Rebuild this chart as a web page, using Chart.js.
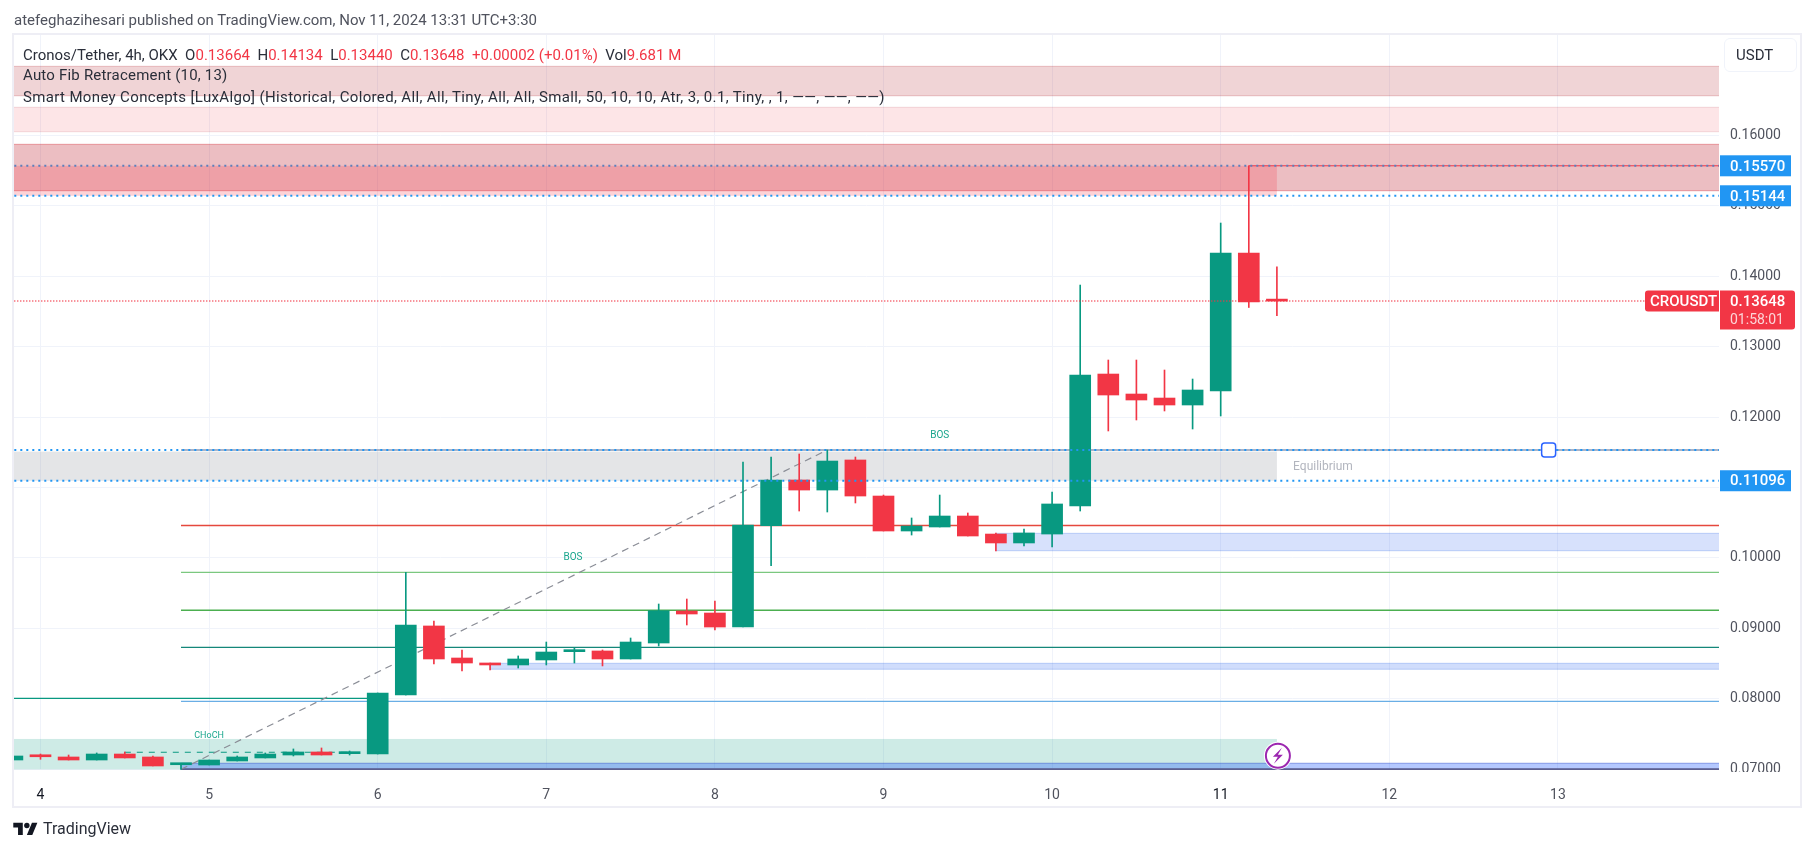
<!DOCTYPE html>
<html>
<head>
<meta charset="utf-8">
<title>CROUSDT</title>
<script src="https://cdn.jsdelivr.net/npm/chart.js@4/dist/chart.umd.js"></script>
<style>
  html, body { margin: 0; padding: 0; background: #fff; width: 1814px; height: 851px; overflow: hidden; }
  body { font-family: Roboto, sans-serif; font-size: 15px; color: #2a2e39; position: relative; }
  canvas { position: absolute; left: 0; top: 0; }
  .txt { position: absolute; white-space: pre; line-height: 18px; }
  .red { color: #f23645; }
  #usdt { position: absolute; left: 1724px; top: 38px; width: 71px; height: 32px; border: 1.5px solid #f0f3fa; border-radius: 6px; line-height: 32px; text-indent: 11px; color: #2a2e39; }
  #logo { position: absolute; left: 13px; top: 820px; }
</style>
</head>
<body>
<canvas id="chart" width="1814" height="851"></canvas>
<div class="txt" style="left:14px;top:11px;color:#50535e">atefeghazihesari published on TradingView.com, Nov 11, 2024 13:31 UTC+3:30</div>
<div class="txt" style="left:23px;top:46px">Cronos/Tether, 4h, OKX  O<span class="red">0.13664</span>  H<span class="red">0.14134</span>  L<span class="red">0.13440</span>  C<span class="red">0.13648</span>  <span class="red">+0.00002 (+0.01%)</span>  Vol<span class="red">9.681 M</span></div>
<div class="txt" style="left:23px;top:66px;letter-spacing:0.2px">Auto Fib Retracement (10, 13)</div>
<div class="txt" style="left:23px;top:88px;letter-spacing:0.35px">Smart Money Concepts [LuxAlgo] (Historical, Colored, All, All, Tiny, All, All, Small, 50, 10, 10, Atr, 3, 0.1, Tiny, , 1, ——, ——, ——)</div>
<div id="usdt">USDT</div>
<svg id="logo" width="25" height="19" viewBox="0 0 36 28"><path fill="#131722" d="M14 22H7V11H0V4h14v18zM28 22h-8l7.5-18h8L28 22z"/><circle fill="#131722" cx="20" cy="8" r="4"/></svg>
<div class="txt" style="left:43px;top:820px;font-size:16px;color:#2a2e39">TradingView</div>

<script>
// 4h candles
const opens = [0.07129, 0.07182, 0.07172, 0.07129, 0.07214, 0.07172, 0.07062, 0.07058, 0.07115, 0.07158, 0.07200, 0.07243, 0.07219, 0.07214, 0.08052, 0.09033, 0.08578, 0.08493, 0.08479, 0.08550, 0.08668, 0.08678, 0.08564, 0.08791, 0.09246, 0.09217, 0.09018, 0.10457, 0.11107, 0.10964, 0.11391, 0.10879, 0.10382, 0.10439, 0.10595, 0.10339, 0.10212, 0.10339, 0.10737, 0.12612, 0.12328, 0.12271, 0.12172, 0.12371, 0.14331, 0.13664];
const highs = [0.07186, 0.07214, 0.07200, 0.07229, 0.07243, 0.07186, 0.07072, 0.07129, 0.07186, 0.07229, 0.07286, 0.07300, 0.07257, 0.08081, 0.09795, 0.09104, 0.08692, 0.08507, 0.08607, 0.08805, 0.08720, 0.08692, 0.08862, 0.09345, 0.09416, 0.09388, 0.11362, 0.11433, 0.11476, 0.11533, 0.11433, 0.10893, 0.10567, 0.10893, 0.10638, 0.10354, 0.10411, 0.10936, 0.13876, 0.12811, 0.12811, 0.12669, 0.12541, 0.14757, 0.15570, 0.14134];
const lows = [0.07129, 0.07139, 0.07129, 0.07129, 0.07158, 0.07044, 0.06997, 0.07058, 0.07115, 0.07158, 0.07186, 0.07200, 0.07200, 0.07214, 0.08052, 0.08493, 0.08394, 0.08408, 0.08436, 0.08479, 0.08507, 0.08465, 0.08564, 0.08749, 0.09047, 0.08976, 0.09018, 0.09889, 0.10666, 0.10652, 0.10780, 0.10382, 0.10325, 0.10439, 0.10311, 0.10098, 0.10169, 0.10155, 0.10666, 0.11803, 0.11959, 0.12087, 0.11831, 0.12016, 0.13557, 0.13440];
const closes = [0.07186, 0.07175, 0.07129, 0.07214, 0.07158, 0.07044, 0.07072, 0.07129, 0.07172, 0.07214, 0.07243, 0.07200, 0.07229, 0.08081, 0.09047, 0.08564, 0.08507, 0.08479, 0.08564, 0.08663, 0.08678, 0.08564, 0.08805, 0.09250, 0.09203, 0.09018, 0.10467, 0.11107, 0.10964, 0.11376, 0.10879, 0.10382, 0.10453, 0.10595, 0.10311, 0.10212, 0.10354, 0.10766, 0.12598, 0.12314, 0.12243, 0.12172, 0.12385, 0.14331, 0.13635, 0.13648];

const dayLabels = ['4', '5', '6', '7', '8', '9', '10', '11', '12', '13'];
const dayIndexes = [1, 7, 13, 19, 25, 31, 37, 43, 49, 55];
const priceTicks = [0.07, 0.08, 0.09, 0.10, 0.11, 0.12, 0.13, 0.14, 0.15, 0.16];

// zones: [from candle, to candle, top price, bottom price]
const topBandA = [-1, 70, 0.16983, 0.16565];
const topBandB = [-1, 70, 0.16401, 0.16054];
const topBandC = [-1, 70, 0.15875, 0.15216];
const premiumZone = [-1, 45, 0.15570, 0.15144];
const equilibriumZone = [-1, 45, 0.11510, 0.11096];
const discountZone = [-1, 45, 0.07428, 0.06996];
const orderBlockHigh = [35, 70, 0.10349, 0.10102];
const orderBlockMid = [17, 70, 0.08503, 0.08418];
const orderBlockLow = [6, 70, 0.07083, 0.06998];

// fib levels start at candle 6
const fibLevels = [0.11533, 0.10460, 0.09795, 0.09256, 0.08730, 0.07963];
const swingLine = [[6, 0.06997], [29, 0.11533]];
const chochLine = [[4, 0.07239], [12, 0.07239]];
const lowLine = [[-1, 0.08005], [13, 0.08005]];
const highLine = [[44, 0.15570], [70, 0.15570]];
const lastPrice = 0.13648;
const badgePrices = [0.15570, 0.15144, 0.11096];

const GREEN = '#089981';
const RED = '#f23645';
const candleColor = i => closes[i] >= opens[i] ? GREEN : RED;

const lineSet = (points, color, order, extra) => Object.assign({
  type: 'line',
  data: points.map(p => ({ x: p[0], y: p[1] })),
  borderColor: color,
  borderWidth: 1,
  pointRadius: 0,
  tension: 0,
  order: order,
}, extra);

const fibColors = ['#8f9ab5', '#e5483d', '#7bc87f', '#4caf50', '#14877a', '#6aaee5'];
const datasets = [
  { data: opens.map((o, i) => ({ x: i, y: [lows[i], highs[i]] })), backgroundColor: opens.map((o, i) => candleColor(i)), barThickness: 1, grouped: false, order: 5 },
  { data: opens.map((o, i) => ({ x: i, y: [o, closes[i]] })), backgroundColor: opens.map((o, i) => candleColor(i)), barThickness: 21, minBarLength: 2, grouped: false, order: 4 },
  lineSet(swingLine, '#8a8d96', 6, { borderWidth: 1.2, borderDash: [7, 5] }),
  lineSet(chochLine, GREEN, 6, { borderDash: [6, 6] }),
  lineSet(lowLine, GREEN, 7, { borderWidth: 1.3 }),
  lineSet(highLine, RED, 3),
  lineSet([[-1, lastPrice], [58.8, lastPrice]], RED, 2, { borderWidth: 1.5, borderDash: [1, 2] }),
  lineSet([[-1, badgePrices[0]], [70, badgePrices[0]]], '#5b80bd', 1, { borderWidth: 2, borderDash: [2, 4] }),
  lineSet([[-1, badgePrices[1]], [70, badgePrices[1]]], '#2196f3', 1, { borderWidth: 2, borderDash: [2, 4] }),
  lineSet([[-1, fibLevels[0]], [70, fibLevels[0]]], '#2196f3', 1, { borderWidth: 2, borderDash: [2, 4] }),
  lineSet([[-1, badgePrices[2]], [70, badgePrices[2]]], '#2196f3', 1, { borderWidth: 2, borderDash: [2, 4] }),
  lineSet([[6, 0.06998], [70, 0.06998]], '#5c5f8f', 6, { borderWidth: 2 }),
];
fibLevels.forEach((level, k) => datasets.push(lineSet([[6, level], [70, level]], fibColors[k], 7, { borderWidth: 1.3 })));

const zoneStyles = [
  [topBandA, 'rgba(178,40,51,0.2)', 'rgba(178,40,51,0.25)'],
  [topBandB, 'rgba(242,54,69,0.13)', 'rgba(178,40,51,0.15)'],
  [topBandC, 'rgba(191,40,52,0.3)', 'rgba(210,40,52,0.4)'],
  [premiumZone, 'rgba(247,53,74,0.22)', null],
  [equilibriumZone, 'rgba(120,123,134,0.2)', null],
  [discountZone, 'rgba(8,153,129,0.2)', null],
  [orderBlockHigh, 'rgba(41,98,240,0.19)', 'rgba(41,98,230,0.25)'],
  [orderBlockMid, 'rgba(41,98,240,0.22)', 'rgba(41,98,230,0.25)'],
  [orderBlockLow, 'rgba(41,98,255,0.35)', 'rgba(41,70,200,0.45)'],
];

const zonesPlugin = {
  id: 'zones',
  beforeDraw(chart) {
    // pane frame
    const c = chart.ctx;
    c.save();
    c.strokeStyle = '#eeeef5';
    c.lineWidth = 2;
    c.strokeRect(13, 34, 1788, 773);
    c.restore();
  },
  beforeDatasetsDraw(chart) {
    const { ctx, chartArea: a, scales: { x, y } } = chart;
    ctx.save();
    ctx.beginPath();
    ctx.rect(a.left, a.top, a.right - a.left, a.bottom - a.top);
    ctx.clip();
    zoneStyles.forEach(([z, fill, border]) => {
      const x0 = x.getPixelForValue(z[0]);
      const x1 = x.getPixelForValue(z[1]);
      const y0 = y.getPixelForValue(z[2]);
      const y1 = y.getPixelForValue(z[3]);
      ctx.fillStyle = fill;
      ctx.fillRect(x0, y0, x1 - x0, y1 - y0);
      if (border) {
        ctx.strokeStyle = border;
        ctx.lineWidth = 1;
        ctx.strokeRect(x0, y0, x1 - x0, y1 - y0);
      }
    });
    ctx.restore();
  },
  afterDraw(chart) {
    const { ctx, chartArea: a, scales: { x, y } } = chart;
    ctx.save();

    // the last tick label is cut by the pane bottom
    ctx.fillStyle = '#fff';
    ctx.fillRect(a.right + 1, 772, 75, 14);

    ctx.textBaseline = 'middle';
    ctx.textAlign = 'center';
    ctx.font = '9px Roboto, sans-serif';
    ctx.fillStyle = '#1aa68d';
    ctx.fillText('CHoCH', x.getPixelForValue(7), y.getPixelForValue(0.07472));
    ctx.font = '10px Roboto, sans-serif';
    ctx.fillText('BOS', x.getPixelForValue(19.95), y.getPixelForValue(0.10000));
    ctx.fillText('BOS', x.getPixelForValue(33), y.getPixelForValue(0.11745));
    ctx.font = '12px Roboto, sans-serif';
    ctx.fillStyle = '#b2b5be';
    ctx.fillText('Equilibrium', x.getPixelForValue(46.64), y.getPixelForValue(0.11291));

    // price badges on the axis
    ctx.textAlign = 'left';
    ctx.font = '500 15px Roboto, sans-serif';
    badgePrices.forEach(p => {
      const py = y.getPixelForValue(p);
      ctx.fillStyle = '#2196f3';
      ctx.fillRect(a.right + 1, py - 10.5, 71, 21);
      ctx.fillStyle = '#fff';
      ctx.fillText(p.toFixed(5), 1730, py + 1);
    });
    const ly = y.getPixelForValue(lastPrice);
    ctx.fillStyle = RED;
    ctx.beginPath();
    ctx.roundRect(a.right + 1, ly - 10.5, 75, 39, [0, 3, 3, 0]);
    ctx.fill();
    ctx.beginPath();
    ctx.roundRect(a.right - 74, ly - 10.5, 74, 21, [3, 0, 0, 3]);
    ctx.fill();
    ctx.fillStyle = '#fff';
    ctx.fillText(lastPrice.toFixed(5), 1730, ly + 1);
    ctx.fillText('CROUSDT', a.right - 69, ly + 1);
    ctx.font = '14px Roboto, sans-serif';
    ctx.fillStyle = '#fcd5d8';
    ctx.fillText('01:58:01', 1730, ly + 19);

    // line tool handle
    const hx = x.getPixelForValue(54.67);
    const hy = y.getPixelForValue(fibLevels[0]);
    ctx.beginPath();
    ctx.roundRect(hx - 7, hy - 7, 14, 14, 3);
    ctx.fillStyle = '#fff';
    ctx.fill();
    ctx.strokeStyle = '#2962ff';
    ctx.lineWidth = 1.5;
    ctx.stroke();

    // lightning marker on the last candle
    const mx = x.getPixelForValue(45) + 1;
    const my = y.getPixelForValue(0.0719);
    ctx.beginPath();
    ctx.arc(mx, my, 14, 0, Math.PI * 2);
    ctx.fillStyle = '#fff';
    ctx.fill();
    ctx.beginPath();
    ctx.arc(mx, my, 12, 0, Math.PI * 2);
    ctx.strokeStyle = '#9c27b0';
    ctx.lineWidth = 2;
    ctx.stroke();
    ctx.beginPath();
    ctx.moveTo(mx + 4, my - 8);
    ctx.lineTo(mx - 5, my + 1);
    ctx.lineTo(mx, my + 1);
    ctx.lineTo(mx - 4, my + 8);
    ctx.lineTo(mx + 5, my - 1);
    ctx.lineTo(mx, my - 1);
    ctx.closePath();
    ctx.fillStyle = '#9c27b0';
    ctx.fill();
    ctx.restore();
  },
};

const config = {
  type: 'bar',
  data: { datasets: datasets },
  options: {
    responsive: false,
    animation: false,
    layout: { padding: { left: 14, top: 35, right: 0, bottom: 0 } },
    plugins: { legend: { display: false }, tooltip: { enabled: false } },
    scales: {
      x: {
        type: 'linear',
        offset: false,
        min: 0.057,
        max: 60.733,
        afterBuildTicks: axis => { axis.ticks = dayIndexes.map(v => ({ value: v })); },
        afterFit: axis => { axis.height = 81; },
        grid: { color: '#f0f3fa', offset: false, drawTicks: false },
        border: { display: false },
        ticks: {
          padding: 17,
          autoSkip: false,
          maxRotation: 0,
          font: { family: 'Roboto, sans-serif', size: 14 },
          color: ctx => (ctx.tick.value === 1 || ctx.tick.value === 43) ? '#131722' : '#50535e',
          callback: v => dayLabels[dayIndexes.indexOf(v)],
        },
      },
      y: {
        position: 'right',
        min: 0.06987,
        max: 0.17428,
        afterBuildTicks: axis => { axis.ticks = priceTicks.map(v => ({ value: v })); },
        afterFit: axis => { axis.width = 95; },
        grid: { color: '#f0f3fa', drawTicks: false },
        border: { display: false },
        ticks: {
          padding: 11,
          font: { family: 'Roboto, sans-serif', size: 14 },
          color: '#50535e',
          callback: v => v.toFixed(5),
        },
      },
    },
  },
  plugins: [zonesPlugin],
};

new Chart(document.getElementById('chart').getContext('2d'), config);
</script>
</body>
</html>
